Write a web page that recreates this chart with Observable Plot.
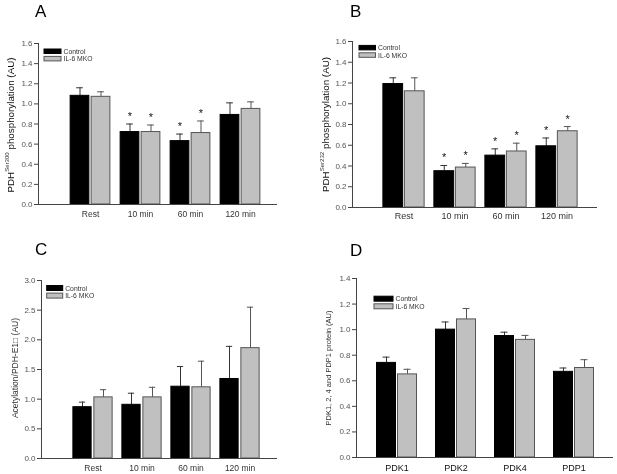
<!DOCTYPE html>
<html>
<head>
<meta charset="utf-8">
<script src="https://cdn.jsdelivr.net/npm/d3@7"></script>
<script src="https://cdn.jsdelivr.net/npm/@observablehq/plot@0.6"></script>
<style>
  html, body { margin: 0; padding: 0; background: #fff; }
  #wrap { position: relative; width: 617px; height: 474px; overflow: hidden; background: #fff; font-family: "Liberation Sans", Arial, sans-serif; }
  .panel { position: absolute; width: 310px; height: 237px; will-change: transform; }
  .panel svg { overflow: visible; }
</style>
</head>
<body>
<div id="wrap">
  <div class="panel" id="pA" style="left:0;top:0"></div>
  <div class="panel" id="pB" style="left:307px;top:0"></div>
  <div class="panel" id="pC" style="left:0;top:237px"></div>
  <div class="panel" id="pD" style="left:307px;top:237px"></div>
</div>
<script>
// ---------- data ----------
const timeCats = ["Rest", "10 min", "60 min", "120 min"];
const proteinCats = ["PDK1", "PDK2", "PDK4", "PDP1"];
const seriesNames = ["Control", "IL-6 MKO"];

const aControl = [1.08, 0.72, 0.63, 0.89];
const aControlSem = [0.08, 0.08, 0.07, 0.12];
const aMko = [1.07, 0.72, 0.71, 0.95];
const aMkoSem = [0.05, 0.07, 0.12, 0.07];
const aControlSig = [false, true, true, false];
const aMkoSig = [false, true, true, false];

const bControl = [1.19, 0.35, 0.50, 0.59];
const bControlSem = [0.06, 0.055, 0.065, 0.08];
const bMko = [1.12, 0.385, 0.54, 0.735];
const bMkoSem = [0.13, 0.04, 0.08, 0.045];
const bControlSig = [false, true, true, true];
const bMkoSig = [false, true, true, true];

const cControl = [0.865, 0.905, 1.21, 1.34];
const cControlSem = [0.085, 0.195, 0.34, 0.55];
const cMko = [1.03, 1.03, 1.20, 1.86];
const cMkoSem = [0.13, 0.17, 0.44, 0.69];

const dControl = [0.74, 1.00, 0.95, 0.67];
const dControlSem = [0.045, 0.06, 0.03, 0.03];
const dMko = [0.65, 1.08, 0.92, 0.70];
const dMkoSem = [0.04, 0.085, 0.035, 0.065];

const ticks16 = [0, 0.2, 0.4, 0.6, 0.8, 1.0, 1.2, 1.4, 1.6];
const ticks30 = [0, 0.5, 1.0, 1.5, 2.0, 2.5, 3.0];
const ticks14 = [0, 0.2, 0.4, 0.6, 0.8, 1.0, 1.2, 1.4];

const yLabelA = ["PDH", "Ser300", " phosphorylation (AU)"];
const yLabelB = ["PDH", "Ser232", " phosphorylation (AU)"];
const yLabelC = "Acetylation/PDH-E1\u25A1 (AU)";
const yLabelD = "PDK1, 2, 4 and PDP1 protein (AU)";

// ---------- drawing ----------
const FONT = "Liberation Sans, Arial, sans-serif";
const BLACK = "#000";
const GREY = "#c0c0c0";

function panel(cfg) {
  const rows = cfg.cats.map((c, i) => ({
    cat: c,
    ctrl: cfg.ctrl[i], ctrlTop: cfg.ctrl[i] + cfg.ctrlSem[i],
    mko: cfg.mko[i], mkoTop: cfg.mko[i] + cfg.mkoSem[i],
    ctrlSig: cfg.ctrlSig ? cfg.ctrlSig[i] : false,
    mkoSig: cfg.mkoSig ? cfg.mkoSig[i] : false
  }));
  const bw = (cfg.xRange[1] - cfg.xRange[0]) / cfg.cats.length;
  const w = cfg.barW, g = cfg.gap, capW = 7;
  const off = g / 2 + w / 2; // distance of each bar centre from band centre
  const plot = Plot.plot({
    width: 310,
    height: 237,
    marginLeft: cfg.marginLeft,
    marginTop: cfg.marginTop,
    marginBottom: cfg.marginBottom,
    marginRight: cfg.marginRight,
    style: {fontFamily: FONT, background: "transparent", overflow: "visible"},
    x: {domain: cfg.cats, range: cfg.xRange, padding: 0},
    y: {domain: cfg.yDomain},
    marks: [
      // error bars (stem + cap)
      Plot.ruleX(rows, {x: "cat", y1: "ctrl", y2: "ctrlTop", dx: -off, stroke: "#333", strokeWidth: 1}),
      Plot.tickY(rows, {x: "cat", y: "ctrlTop", stroke: "#333", insetLeft: bw / 2 - off - capW / 2, insetRight: bw / 2 + off - capW / 2}),
      Plot.ruleX(rows, {x: "cat", y1: "mko", y2: "mkoTop", dx: off, stroke: "#555", strokeWidth: 1}),
      Plot.tickY(rows, {x: "cat", y: "mkoTop", stroke: "#555", insetLeft: bw / 2 + off - capW / 2, insetRight: bw / 2 - off - capW / 2}),
      // bars
      Plot.barY(rows, {x: "cat", y: "ctrl", fill: BLACK, stroke: BLACK, strokeWidth: 1,
        insetLeft: bw / 2 - g / 2 - w, insetRight: bw / 2 + g / 2}),
      Plot.barY(rows, {x: "cat", y: "mko", fill: GREY, stroke: "#555", strokeWidth: 1,
        insetLeft: bw / 2 + g / 2, insetRight: bw / 2 - g / 2 - w}),
      // significance stars
      Plot.text(rows.filter(d => d.ctrlSig), {x: "cat", y: "ctrlTop", text: () => "*", dx: -off, dy: -4, lineAnchor: "bottom", fontSize: 11, fill: "#111"}),
      Plot.text(rows.filter(d => d.mkoSig), {x: "cat", y: "mkoTop", text: () => "*", dx: off, dy: -4, lineAnchor: "bottom", fontSize: 11, fill: "#111"}),
      // axes
      Plot.ruleY([0], {stroke: "#444"}),
      Plot.frame({anchor: "left", stroke: "#444"}),
      Plot.axisY({ticks: cfg.yTicks, tickFormat: d3.format(".1f"), tickSize: 4, tickPadding: 2,
        fontSize: cfg.tickFont, color: "#555", stroke: "#444", label: null}),
      Plot.axisX({tickSize: 0, tickPadding: cfg.catPad, fontSize: cfg.catFont, color: cfg.catColor, label: null})
    ]
  });
  const svg = d3.select(plot);
  // panel letter
  svg.append("text").attr("x", cfg.letterX).attr("y", cfg.letterY).attr("text-anchor", "start")
    .attr("font-family", FONT).attr("font-size", 17).attr("fill", "#000").text(cfg.letter);
  // y-axis title
  const t = svg.append("text")
    .attr("transform", `translate(${cfg.labelX},${cfg.labelY}) rotate(-90)`)
    .attr("text-anchor", "middle").attr("font-family", FONT).attr("fill", "#111");
  if (Array.isArray(cfg.label)) {
    t.append("tspan").attr("font-size", cfg.labelFont).text(cfg.label[0]);
    t.append("tspan").attr("font-size", cfg.labelFont * 0.62).attr("dy", -cfg.labelFont * 0.42).attr("fill", "#333").text(cfg.label[1]);
    t.append("tspan").attr("font-size", cfg.labelFont).attr("dy", cfg.labelFont * 0.42).text(cfg.label[2]);
  } else {
    t.attr("font-size", cfg.labelFont).attr("fill", "#333").text(cfg.label);
  }
  // legend
  const L = cfg.legend;
  const fills = [BLACK, GREY], strokes = [BLACK, "#555"];
  seriesNames.forEach((name, i) => {
    const y = L.y + i * L.step;
    svg.append("rect").attr("x", L.x).attr("y", y).attr("width", L.w).attr("height", L.h)
      .attr("fill", fills[i]).attr("stroke", strokes[i]).attr("stroke-width", 1);
    svg.append("text").attr("x", L.x + L.w + 2.5).attr("y", y + L.h / 2 + 2.5).attr("text-anchor", "start")
      .attr("font-family", FONT).attr("font-size", L.font).attr("fill", "#333").text(name);
  });
  document.getElementById(cfg.el).appendChild(plot);
}

panel({
  el: "pA", letter: "A", letterX: 35, letterY: 17,
  cats: timeCats, ctrl: aControl, ctrlSem: aControlSem, mko: aMko, mkoSem: aMkoSem,
  ctrlSig: aControlSig, mkoSig: aMkoSig,
  yDomain: [0, 1.6], yTicks: ticks16,
  marginLeft: 38, marginTop: 43, marginBottom: 33, marginRight: 33, xRange: [64, 265],
  barW: 19, gap: 2, tickFont: 8, catFont: 8.5, catPad: 6, catColor: "#333",
  label: yLabelA, labelX: 13.5, labelY: 125, labelFont: 9.8,
  legend: {x: 44, y: 49, w: 17, h: 4.5, step: 7.4, font: 6.8}
});
panel({
  el: "pB", letter: "B", letterX: 43, letterY: 17,
  cats: timeCats, ctrl: bControl, ctrlSem: bControlSem, mko: bMko, mkoSem: bMkoSem,
  ctrlSig: bControlSig, mkoSig: bMkoSig,
  yDomain: [0, 1.6], yTicks: ticks16,
  marginLeft: 45, marginTop: 41, marginBottom: 30, marginRight: 20, xRange: [70.5, 275.5],
  barW: 20, gap: 1.5, tickFont: 8, catFont: 9, catPad: 5, catColor: "#333",
  label: yLabelB, labelX: 21.5, labelY: 124.5, labelFont: 9.8,
  legend: {x: 52, y: 45.4, w: 16.5, h: 4.5, step: 7.4, font: 6.8}
});
panel({
  el: "pC", letter: "C", letterX: 35, letterY: 18,
  cats: timeCats, ctrl: cControl, ctrlSem: cControlSem, mko: cMko, mkoSem: cMkoSem,
  yDomain: [0, 3.0], yTicks: ticks30,
  marginLeft: 41, marginTop: 43, marginBottom: 16, marginRight: 33, xRange: [66, 265],
  barW: 19, gap: 2, tickFont: 8, catFont: 8.5, catPad: 6, catColor: "#333",
  label: yLabelC, labelX: 18, labelY: 131, labelFont: 8.5,
  legend: {x: 46.7, y: 48.5, w: 16, h: 5, step: 7.6, font: 6.8}
});
panel({
  el: "pD", letter: "D", letterX: 43, letterY: 19,
  cats: proteinCats, ctrl: dControl, ctrlSem: dControlSem, mko: dMko, mkoSem: dMkoSem,
  yDomain: [0, 1.4], yTicks: ticks14,
  marginLeft: 49, marginTop: 41, marginBottom: 17, marginRight: 4, xRange: [60, 296],
  barW: 19, gap: 2, tickFont: 8, catFont: 9, catPad: 7.5, catColor: "#111",
  label: yLabelD, labelX: 24, labelY: 131, labelFont: 7.5,
  legend: {x: 67, y: 59.2, w: 19, h: 5, step: 7.6, font: 6.8}
});
</script>
</body>
</html>
